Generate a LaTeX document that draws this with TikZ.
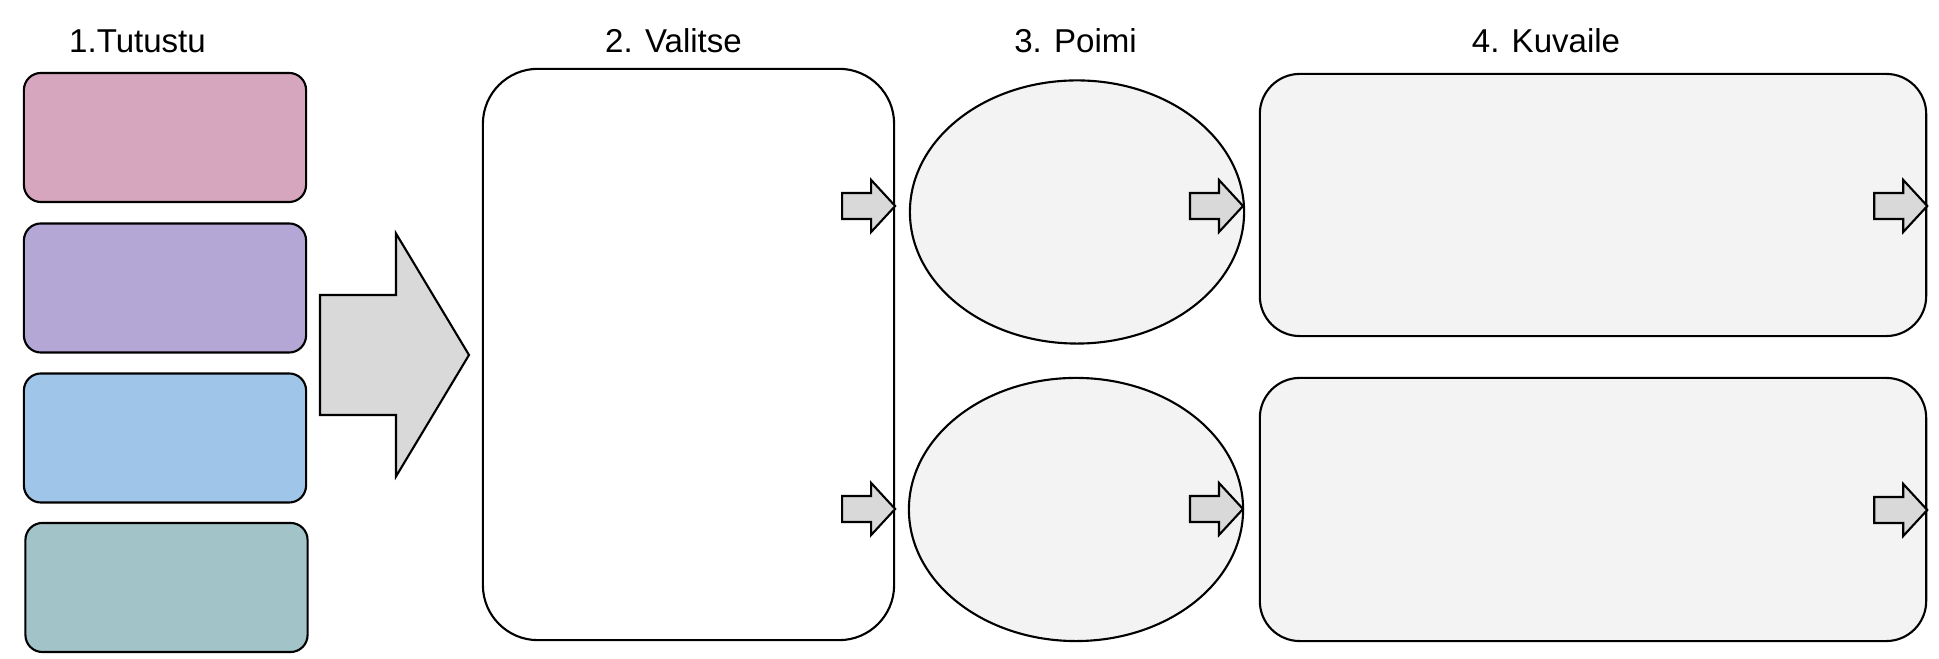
\documentclass[tikz,border=0pt]{standalone}
\usepackage{fontspec}
\setmainfont{Liberation Sans}
\usepackage{tikz}
\usetikzlibrary{shapes.geometric, positioning, calc}
\definecolor{pinkbox}{HTML}{D5A6BD}
\definecolor{purplebox}{HTML}{B4A7D6}
\definecolor{bluebox}{HTML}{9FC5E8}
\definecolor{tealbox}{HTML}{A2C4C9}
\definecolor{arrowgray}{HTML}{D9D9D9}
\definecolor{panelgray}{HTML}{F3F3F3}
\tikzstyle{heading} = [anchor=base, inner sep=0pt, font=\fontsize{9.4}{11}\selectfont]
\tikzstyle{cardbox} = [rectangle, rounded corners=0.17cm, draw=black, line width=0.6pt, minimum width=2.82cm, minimum height=1.29cm, inner sep=0pt]
\tikzstyle{choicebox} = [rectangle, rounded corners=0.55cm, draw=black, fill=white, line width=0.6pt, minimum width=4.11cm, minimum height=5.71cm, inner sep=0pt]
\tikzstyle{pickoval} = [ellipse, draw=black, fill=panelgray, line width=0.6pt, minimum width=3.34cm, minimum height=2.63cm, inner sep=0pt]
\tikzstyle{describebox} = [rectangle, rounded corners=0.4cm, draw=black, fill=panelgray, line width=0.6pt, minimum width=6.66cm, minimum height=2.62cm, inner sep=0pt]
\tikzstyle{fatarrow} = [draw=black, fill=arrowgray, line width=0.6pt, line join=miter]
% tip, length, head length, half head width, half shaft width
\newcommand\blockarrow[5]{%
	\draw [fatarrow] (#1) -- ++(-#3,-#4) -- ++(0,#4-#5) -- ++(#3-#2,0)
		-- ++(0,2*#5) -- ++(#2-#3,0) -- ++(0,#4-#5) -- cycle;
}

\begin{document}
\begin{tikzpicture}[x=0.01cm, y=-0.01cm]
\useasboundingbox (0,0) rectangle (1939,659);
%----------------------------------------------------------------------------
% Headings
\node (headTutustu) [heading] at (137.5,53) {1.Tutustu};
\node (headValitse) [heading] at (673.5,53) {2. Valitse};
\node (headPoimi) [heading] at (1075.5,53) {3. Poimi};
\node (headKuvaile) [heading] at (1546,53) {4. Kuvaile};

%----------------------------------------------------------------------------
% Step 1 cards
\node (tutustuPink) [cardbox, fill=pinkbox] at (165,137.5) {};
\node (tutustuPurple) [cardbox, fill=purplebox] at (165,288) {};
\node (tutustuBlue) [cardbox, fill=bluebox] at (165,438) {};
\node (tutustuTeal) [cardbox, fill=tealbox] at (166.5,587.5) {};

%----------------------------------------------------------------------------
% Steps 2 - 4
\node (valitse) [choicebox] at (688.5,354.5) {};
\node (poimiTop) [pickoval] at (1077,212) {};
\node (poimiBottom) [pickoval] at (1076,509.5) {};
\node (kuvaileTop) [describebox] at (1593,205) {};
\node (kuvaileBottom) [describebox, minimum height=2.63cm] at (1593,509.5) {};

%----------------------------------------------------------------------------
% Arrows
\coordinate (bigTip) at (469,355);
\coordinate (valitseTipA) at (valitse.east |- 0,206);
\coordinate (valitseTipB) at (valitse.east |- 0,509);
\coordinate (poimiTipA) at (1243,206);
\coordinate (poimiTipB) at (1243,509);
\coordinate (kuvaileTipA) at (kuvaileTop.east |- 0,206);
\coordinate (kuvaileTipB) at (kuvaileBottom.east |- 0,510);

\blockarrow{bigTip}{149}{73}{121.5}{60}
\blockarrow{valitseTipA}{53}{24}{26}{13}
\blockarrow{valitseTipB}{53}{24}{26}{13}
\blockarrow{poimiTipA}{53}{24}{26}{13}
\blockarrow{poimiTipB}{53}{24}{26}{13}
\blockarrow{kuvaileTipA}{53}{24}{26}{13}
\blockarrow{kuvaileTipB}{53}{24}{26}{13}

\end{tikzpicture}
\end{document}
